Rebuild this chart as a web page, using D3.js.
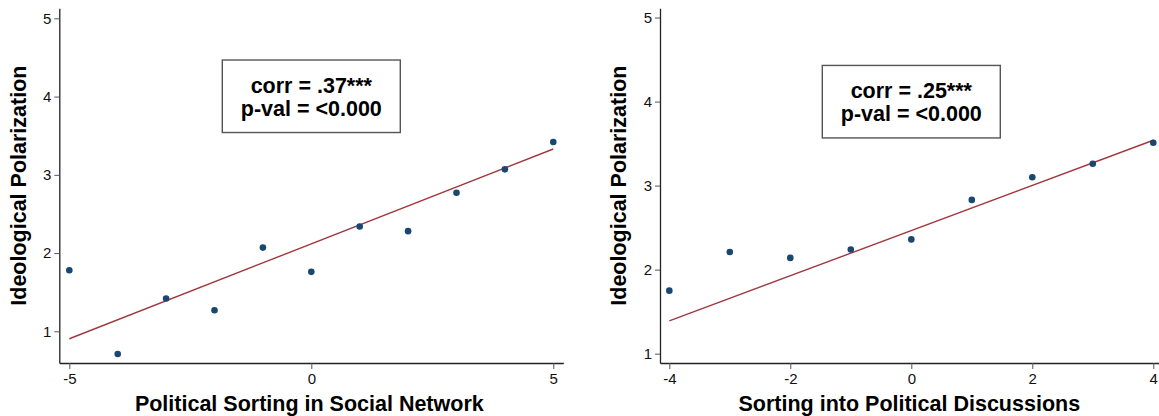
<!DOCTYPE html>
<html>
<head>
  <meta charset="UTF-8">
  <title>Sorting and polarization</title>
  <script src="https://cdn.jsdelivr.net/npm/d3@7"></script>
  <style>
    body { margin: 0; background: #fff; }
    svg { display: block; font-family: "Liberation Sans", Arial, Helvetica, sans-serif; }
  </style>
</head>
<body>
  <svg></svg>

  <script>
    // binned means
    let xLeft = [-5, -4, -3, -2, -1, 0, 1, 2, 3, 4, 5];
    let yLeft = [1.78, 0.71, 1.42, 1.27, 2.07, 1.76, 2.34, 2.28, 2.77, 3.07, 3.42];
    let fitLeft = [0.905, 3.33];   // fitted value at first and last x

    let xRight = [-4, -3, -2, -1, 0, 1, 2, 3, 4];
    let yRight = [1.75, 2.21, 2.14, 2.24, 2.36, 2.83, 3.10, 3.26, 3.51];
    let fitRight = [1.39, 3.54];

    let yTicks = [1, 2, 3, 4, 5];
    let xTicksLeft = [-5, 0, 5];
    let xTicksRight = [-4, -2, 0, 2, 4];

    let yTitle = "Ideological Polarization";
    let xTitleLeft = "Political Sorting in Social Network";
    let xTitleRight = "Sorting into Political Discussions";
    let statsLeft = ["corr = .37***", "p-val = <0.000"];
    let statsRight = ["corr = .25***", "p-val = <0.000"];

    let width = 1159, height = 416;
    let svg = d3.select("svg").attr("width", width).attr("height", height);

    let fmt = d => d < 0 ? "-" + Math.abs(d) : String(d);

    function panel(opt) {
      let x = d3.scaleLinear().domain(opt.xDomain).range([opt.left, opt.right]);
      let y = d3.scaleLinear().domain(opt.yDomain).range([opt.bottom, opt.top]);
      let g = svg.append("g");

      // axes
      let ya = g.append("g")
        .attr("transform", "translate(" + opt.left + ",0)")
        .call(d3.axisLeft(y).tickValues(yTicks).tickSize(5).tickPadding(3).tickSizeOuter(0).tickFormat(fmt));
      let xa = g.append("g")
        .attr("transform", "translate(0," + opt.bottom + ")")
        .call(d3.axisBottom(x).tickValues(opt.xTicks).tickSize(6).tickPadding(4).tickSizeOuter(0).tickFormat(fmt));
      [ya, xa].forEach(a => {
        a.attr("font-size", 15).attr("font-family", null);
        a.select(".domain").attr("stroke", "#222").attr("stroke-width", 1.3);
        a.selectAll(".tick line").attr("stroke", "#555");
        a.selectAll(".tick text").attr("fill", "#111").style("font-size", "15px");
      });

      // titles
      g.append("text")
        .attr("transform", "translate(" + opt.yTitleX + "," + ((opt.top + opt.bottom) / 2) + ") rotate(-90)")
        .attr("text-anchor", "middle")
        .attr("font-size", 21.5).attr("font-weight", "bold")
        .text(yTitle);
      g.append("text")
        .attr("x", (opt.left + opt.right) / 2 - 2)
        .attr("y", 410.5)
        .attr("text-anchor", "middle")
        .attr("font-size", 21.5).attr("font-weight", "bold")
        .text(opt.xTitle);

      // fitted line
      let xs = opt.xs;
      g.append("line")
        .attr("x1", x(xs[0])).attr("y1", y(opt.fit[0]))
        .attr("x2", x(xs[xs.length - 1])).attr("y2", y(opt.fit[1]))
        .attr("stroke", "#a0393f").attr("stroke-width", 1.4);

      // points
      g.append("g").selectAll("circle")
        .data(xs.map((d, i) => [d, opt.ys[i]]))
        .enter()
        .append("circle")
        .attr("cx", d => x(d[0]))
        .attr("cy", d => y(d[1]))
        .attr("r", 3.3)
        .attr("fill", "#1a476f");

      // stats box, centred on x = 0
      let bx = x(0), by = y(opt.boxTop);
      g.append("rect")
        .attr("x", bx - 89).attr("y", by)
        .attr("width", 178).attr("height", 72.5)
        .attr("fill", "#fff").attr("stroke", "#555").attr("stroke-width", 1.4);
      g.append("text")
        .attr("text-anchor", "middle")
        .attr("font-size", 21.5).attr("font-weight", "bold")
        .selectAll("tspan")
        .data(opt.stats)
        .enter()
        .append("tspan")
        .attr("x", bx)
        .attr("y", (d, i) => by + 33 + i * 22.7)
        .text(d => d);
    }

    panel({
      xs: xLeft, ys: yLeft, fit: fitLeft, xTicks: xTicksLeft,
      xDomain: [-5.207, 5.207], yDomain: [0.595, 5.128],
      left: 59.3, right: 563.3, top: 8.3, bottom: 363,
      yTitleX: 26, xTitle: xTitleLeft, stats: statsLeft, boxTop: 4.467
    });
    panel({
      xs: xRight, ys: yRight, fit: fitRight, xTicks: xTicksRight,
      xDomain: [-4.154, 4.154], yDomain: [0.889, 5.11],
      left: 660, right: 1162.6, top: 8.3, bottom: 363,
      yTitleX: 626, xTitle: xTitleRight, stats: statsRight, boxTop: 4.43
    });
  </script>
</body>
</html>
